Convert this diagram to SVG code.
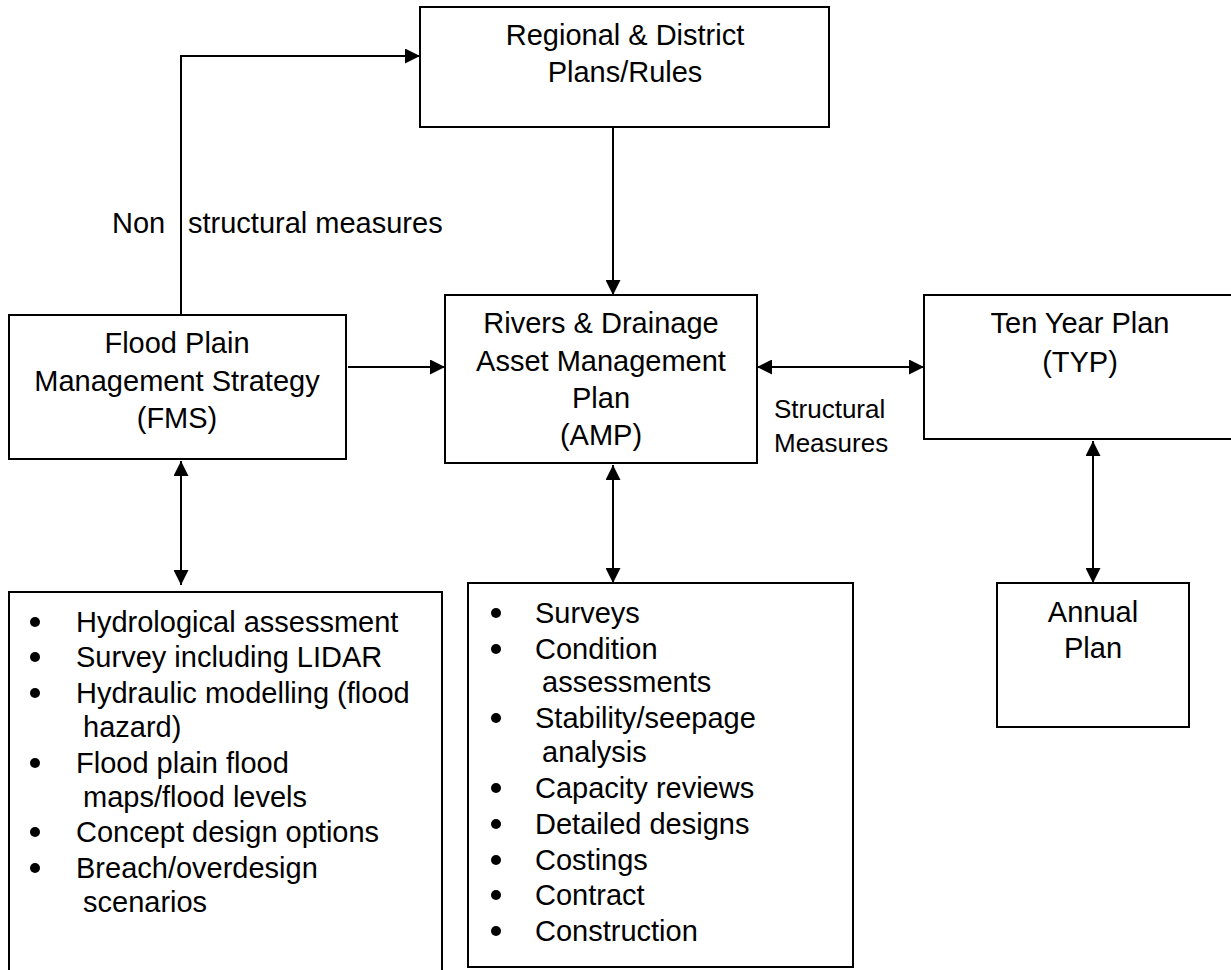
<svg xmlns="http://www.w3.org/2000/svg" width="1231" height="970" viewBox="0 0 1231 970">
  <style>
    .box { fill: #fff; stroke: #000; stroke-width: 2; }
    .lbl { font-family: "Liberation Sans", Arial, Helvetica, sans-serif; font-size: 29px; fill: #000; }
    .mid { text-anchor: middle; }
    .small { font-size: 26px; }
    .wire { fill: none; stroke: #000; stroke-width: 2; }
    .dot { fill: #000; }
  </style>
  <defs>
    <marker id="arrow" viewBox="0 0 15 15" refX="15" refY="7.5" markerWidth="15" markerHeight="15" markerUnits="userSpaceOnUse" orient="auto-start-reverse">
      <path d="M0,0 L15,7.5 L0,15 z" fill="#000"/>
    </marker>
  </defs>
  <rect width="1231" height="970" fill="#fff"/>

  <g id="connectors">
    <path class="wire" d="M181,315 V56 H420" marker-end="url(#arrow)"/>
    <path class="wire" d="M613,127 V295" marker-end="url(#arrow)"/>
    <path class="wire" d="M348,367 H445" marker-end="url(#arrow)"/>
    <path class="wire" d="M757,367 H924" marker-start="url(#arrow)" marker-end="url(#arrow)"/>
    <path class="wire" d="M181,461 V585" marker-start="url(#arrow)" marker-end="url(#arrow)"/>
    <path class="wire" d="M613,465 V583" marker-start="url(#arrow)" marker-end="url(#arrow)"/>
    <path class="wire" d="M1093,441 V583" marker-start="url(#arrow)" marker-end="url(#arrow)"/>
  </g>

  <g id="edge-labels">
    <text class="lbl" x="112" y="233">Non</text>
    <text class="lbl" x="188" y="233">structural measures</text>
    <text class="lbl small" x="774" y="418">Structural</text>
    <text class="lbl small" x="774" y="452">Measures</text>
  </g>

  <g id="regional-plans">
    <rect class="box" x="420" y="7" width="409" height="120"/>
    <text class="lbl mid" x="625" y="45">Regional &amp; District</text>
    <text class="lbl mid" x="625" y="82">Plans/Rules</text>
  </g>

  <g id="fms">
    <rect class="box" x="9" y="315" width="337" height="144"/>
    <text class="lbl mid" x="177" y="353">Flood Plain</text>
    <text class="lbl mid" x="177" y="391">Management Strategy</text>
    <text class="lbl mid" x="177" y="428">(FMS)</text>
  </g>

  <g id="amp">
    <rect class="box" x="445" y="295" width="312" height="168"/>
    <text class="lbl mid" x="601" y="333">Rivers &amp; Drainage</text>
    <text class="lbl mid" x="601" y="371">Asset Management</text>
    <text class="lbl mid" x="601" y="408">Plan</text>
    <text class="lbl mid" x="601" y="445">(AMP)</text>
  </g>

  <g id="typ">
    <rect class="box" x="924" y="295" width="312" height="144"/>
    <text class="lbl mid" x="1080" y="333">Ten Year Plan</text>
    <text class="lbl mid" x="1080" y="372">(TYP)</text>
  </g>

  <g id="annual-plan">
    <rect class="box" x="997" y="583" width="192" height="144"/>
    <text class="lbl mid" x="1093" y="622">Annual</text>
    <text class="lbl mid" x="1093" y="658">Plan</text>
  </g>

  <g id="fms-tasks">
    <rect class="box" x="9" y="592" width="433" height="400"/>
    <circle class="dot" cx="35" cy="622" r="5"/>
    <text class="lbl" x="76" y="632">Hydrological assessment</text>
    <circle class="dot" cx="35" cy="657" r="5"/>
    <text class="lbl" x="76" y="667">Survey including LIDAR</text>
    <circle class="dot" cx="35" cy="693" r="5"/>
    <text class="lbl" x="76" y="703">Hydraulic modelling (flood</text>
    <text class="lbl" x="83" y="737">hazard)</text>
    <circle class="dot" cx="35" cy="763" r="5"/>
    <text class="lbl" x="76" y="773">Flood plain flood</text>
    <text class="lbl" x="83" y="807">maps/flood levels</text>
    <circle class="dot" cx="35" cy="832" r="5"/>
    <text class="lbl" x="76" y="842">Concept design options</text>
    <circle class="dot" cx="35" cy="868" r="5"/>
    <text class="lbl" x="76" y="878">Breach/overdesign</text>
    <text class="lbl" x="83" y="912">scenarios</text>
  </g>

  <g id="amp-tasks">
    <rect class="box" x="468" y="583" width="385" height="384"/>
    <circle class="dot" cx="496" cy="613" r="5"/>
    <text class="lbl" x="535" y="623">Surveys</text>
    <circle class="dot" cx="496" cy="649" r="5"/>
    <text class="lbl" x="535" y="659">Condition</text>
    <text class="lbl" x="542" y="692">assessments</text>
    <circle class="dot" cx="496" cy="718" r="5"/>
    <text class="lbl" x="535" y="728">Stability/seepage</text>
    <text class="lbl" x="542" y="762">analysis</text>
    <circle class="dot" cx="496" cy="788" r="5"/>
    <text class="lbl" x="535" y="798">Capacity reviews</text>
    <circle class="dot" cx="496" cy="824" r="5"/>
    <text class="lbl" x="535" y="834">Detailed designs</text>
    <circle class="dot" cx="496" cy="860" r="5"/>
    <text class="lbl" x="535" y="870">Costings</text>
    <circle class="dot" cx="496" cy="895" r="5"/>
    <text class="lbl" x="535" y="905">Contract</text>
    <circle class="dot" cx="496" cy="931" r="5"/>
    <text class="lbl" x="535" y="941">Construction</text>
  </g>
</svg>
